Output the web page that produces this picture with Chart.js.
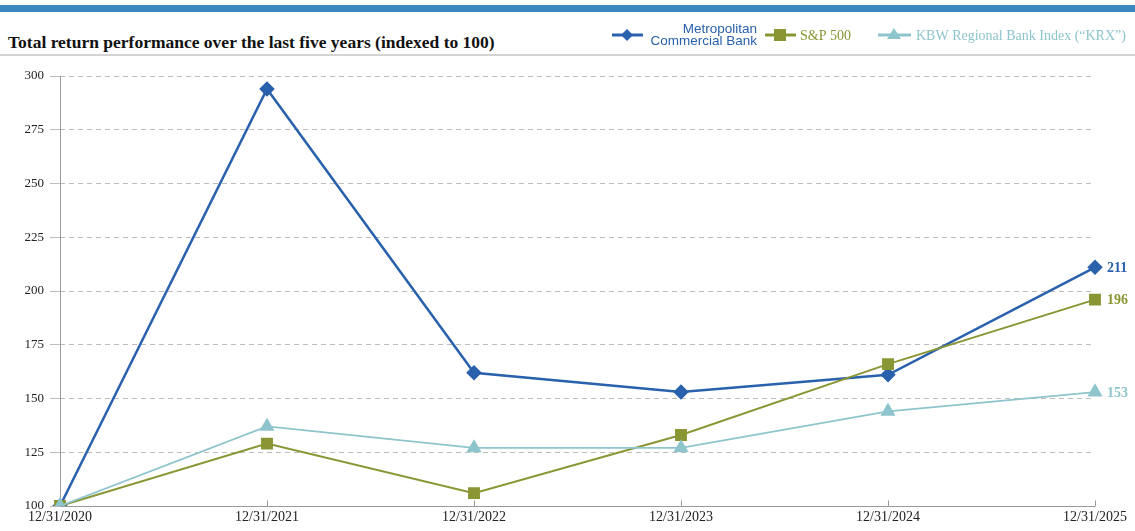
<!DOCTYPE html>
<html>
<head>
<meta charset="utf-8">
<script src="https://cdn.jsdelivr.net/npm/chart.js@4"></script>
<style>
  html,body{margin:0;padding:0;background:#fff;}
  #wrap{position:relative;width:1135px;height:531px;overflow:hidden;}
  #bar{position:absolute;left:0;top:5px;width:1135px;height:7px;background:#3d87c0;}
  #title{position:absolute;left:8px;top:32px;font:bold 17.5px "Liberation Serif","Times New Roman",serif;color:#111;white-space:nowrap;}
  #rule{position:absolute;left:0;top:54px;width:1135px;height:2px;background:#d4d4d4;}
  canvas{position:absolute;left:0;top:0;}
</style>
</head>
<body>
<div id="wrap">
  <div id="bar"></div>
  <div id="title">Total return performance over the last five years (indexed to 100)</div>
  <div id="rule"></div>
  <canvas id="legendCanvas" width="1135" height="60" style="position:absolute;left:0;top:0;"></canvas>
  <canvas id="c" width="1135" height="531"></canvas>
</div>
<script>
const categories = ["12/31/2020","12/31/2021","12/31/2022","12/31/2023","12/31/2024","12/31/2025"];
const mcbValues = [100, 294, 162, 153, 161, 211];
const spValues  = [100, 129, 106, 133, 166, 196];
const krxValues = [100, 137, 127, 127, 144, 153];
const yTicks = [100,125,150,175,200,225,250,275,300];
const seriesNames = ["Metropolitan Commercial Bank","S&P 500","KBW Regional Bank Index (\u201cKRX\u201d)"];
const colors = {mcb:"#2961ad", sp:"#8a9634", krx:"#8ec5cd"};

// Legend (drawn on a small canvas)
(function(){
  const lc = document.getElementById('legendCanvas').getContext('2d');
  const y = 35;
  function line(x1,x2,col,w){lc.strokeStyle=col;lc.lineWidth=w;lc.beginPath();lc.moveTo(x1,y);lc.lineTo(x2,y);lc.stroke();}
  // MCB
  line(612,643,colors.mcb,3);
  lc.fillStyle=colors.mcb;lc.beginPath();lc.moveTo(627,y-6);lc.lineTo(633,y);lc.lineTo(627,y+6);lc.lineTo(621,y);lc.closePath();lc.fill();
  lc.font='13.5px "Liberation Sans", Arial, sans-serif';lc.textAlign='right';lc.textBaseline='middle';
  lc.fillText("Metropolitan",757,y-6);
  lc.fillText("Commercial Bank",757,y+6);
  // S&P
  line(765,796,colors.sp,3);
  lc.fillStyle=colors.sp;lc.fillRect(774,y-6,12,12);
  lc.font='14px "Liberation Serif","Times New Roman",serif';lc.textAlign='left';
  lc.fillText(seriesNames[1],800,y+1);
  // KRX
  line(878,911,colors.krx,3);
  lc.fillStyle=colors.krx;lc.beginPath();lc.moveTo(894,y-7);lc.lineTo(901,y+4);lc.lineTo(887,y+4);lc.closePath();lc.fill();
  lc.fillText(seriesNames[2],916,y+1);
})();

const endLabels = {
  id:'endLabels',
  afterDatasetsDraw(chart){
    const ctx = chart.ctx;
    ctx.save();
    ctx.font = 'bold 14px "Liberation Serif","Times New Roman",serif';
    ctx.textAlign='left';ctx.textBaseline='middle';
    chart.data.datasets.forEach((ds,i)=>{
      const meta = chart.getDatasetMeta(i);
      const pt = meta.data[meta.data.length-1];
      ctx.fillStyle = ds.borderColor;
      ctx.fillText(String(ds.data[ds.data.length-1]), pt.x+12, pt.y+1);
    });
    ctx.restore();
  }
};
const axisLines = {
  id:'axisLines',
  beforeDatasetsDraw(chart){
    const ctx=chart.ctx, xs=chart.scales.x, a=chart.chartArea;
    ctx.save();ctx.strokeStyle='#9a9a9a';ctx.lineWidth=1;ctx.setLineDash([]);
    const l=Math.round(a.left)+0.5, b=Math.round(a.bottom)+0.5;
    ctx.beginPath();ctx.moveTo(l,a.top);ctx.lineTo(l,b);ctx.lineTo(a.right,b);ctx.stroke();
    categories.forEach((c,i)=>{
      if(i===0) return;
      const x=Math.round(xs.getPixelForValue(i))+0.5;
      ctx.beginPath();ctx.moveTo(x,b);ctx.lineTo(x,b-6);ctx.stroke();
    });
    ctx.restore();
  }
};

new Chart(document.getElementById('c'), {
  type:'line',
  data:{
    labels:categories,
    datasets:[
      {label:seriesNames[2],data:krxValues,borderColor:colors.krx,backgroundColor:colors.krx,borderWidth:1.8,pointStyle:'triangle',pointRadius:7,pointHoverRadius:7,tension:0},
      {label:seriesNames[1],data:spValues,borderColor:colors.sp,backgroundColor:colors.sp,borderWidth:2,pointStyle:'rect',pointRadius:7,pointHoverRadius:7,tension:0},
      {label:seriesNames[0],data:mcbValues,borderColor:colors.mcb,backgroundColor:colors.mcb,borderWidth:2.5,pointStyle:'rectRot',pointRadius:6,pointHoverRadius:6,tension:0}
    ]
  },
  options:{
    responsive:false,animation:false,
    layout:{padding:{top:76,right:40,left:0,bottom:0}},
    plugins:{legend:{display:false},tooltip:{enabled:false},title:{display:false}},
    scales:{
      x:{
        offset:false,
        grid:{display:false,drawTicks:false},
        border:{display:false},
        ticks:{color:'#222',font:{family:'"Liberation Serif","Times New Roman",serif',size:14},padding:3,maxRotation:0,autoSkip:false},
        afterFit(s){s.height=25;}
      },
      y:{
        min:100,max:300,
        afterBuildTicks(s){s.ticks=yTicks.map(v=>({value:v}));},
        grid:{color:'#bdbdbd',lineWidth:1,tickLength:10,drawTicks:true},
        border:{display:false,dash:[5,4]},
        ticks:{color:'#222',font:{family:'"Liberation Serif","Times New Roman",serif',size:13},padding:6},
        afterFit(s){s.width=60;}
      }
    }
  },
  plugins:[axisLines,endLabels]
});
</script>
</body>
</html>
